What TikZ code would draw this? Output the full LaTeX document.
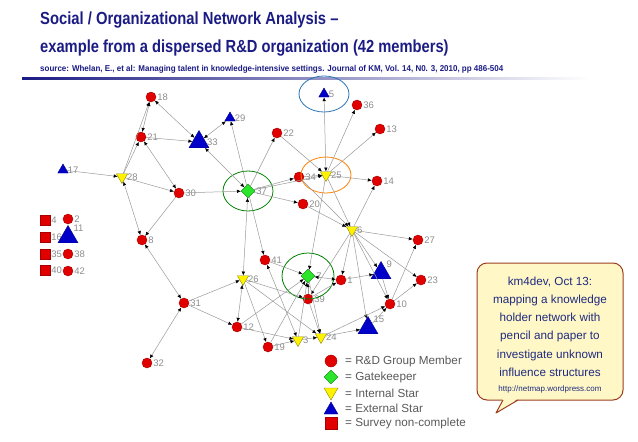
\documentclass[tikz,border=0pt]{standalone}
\usepackage{fontspec}
\usepackage{graphicx}
\setmainfont{Liberation Sans}
\usetikzlibrary{shapes.geometric,arrows.meta}

\definecolor{titleblue}{HTML}{1B1B84}
\definecolor{ndred}{HTML}{E00000}
\definecolor{ndgreen}{HTML}{2BE52B}
\definecolor{ndyellow}{HTML}{FFF200}
\definecolor{ndblue}{HTML}{0000C8}
\definecolor{ringblue}{HTML}{2A74B8}
\definecolor{notefill}{HTML}{FFF8C6}
\definecolor{noteline}{HTML}{9C3D1E}
\definecolor{notetext}{HTML}{1F2A80}

\tikzset{
  lbl/.style={font=\fontsize{9.5}{10}\selectfont, text=gray!90, inner sep=1pt},
  member/.style={circle, draw=ndred!75!black, fill=ndred, minimum size=10pt, inner sep=0pt},
  survey/.style={rectangle, draw=ndred!75!black, fill=ndred, minimum size=10pt, inner sep=0pt},
  gatekeeper/.style={diamond, draw=green!50!black, fill=ndgreen, minimum size=14pt, inner sep=0pt},
  intstar/.style={regular polygon, regular polygon sides=3, shape border rotate=180, draw=olive, fill=ndyellow, minimum size=13pt, inner sep=0pt},
  extstar/.style={regular polygon, regular polygon sides=3, draw=ndblue!70!black, fill=ndblue, minimum size=12pt, inner sep=0pt},
  bigstar/.style={extstar, minimum size=23pt},
  link/.style={draw=gray!80, line width=0.5pt, >={Latex[length=4pt,width=3.5pt,color=black]}},
  ring/.style={line width=0.8pt},
  legendtext/.style={anchor=west, text=black!65, font=\fontsize{11.7}{12}\selectfont, inner sep=0pt},
}

\begin{document}
\begin{tikzpicture}[x=1pt,y=-1pt]
\useasboundingbox (0,0) rectangle (638,442);

% Title
\node[anchor=base west, inner sep=0, text=titleblue, font=\bfseries\fontsize{17.5}{20}\selectfont] (title1) at (40,24) {\scalebox{0.845}[1]{Social / Organizational Network Analysis –}};
\node[anchor=base west, inner sep=0, text=titleblue, font=\bfseries\fontsize{17.5}{20}\selectfont] (title2) at (40,52) {\scalebox{0.84}[1]{example from a dispersed R\&D organization (42 members)}};
\node[anchor=base west, inner sep=0, text=titleblue, font=\bfseries\fontsize{8.5}{10}\selectfont] (source) at (40,71) {\scalebox{0.94}[1]{source: Whelan, E., et al: Managing talent in knowledge-intensive settings. Journal of KM, Vol. 14, N0. 3, 2010, pp 486-504}};
\shade[left color=titleblue, right color=white] (22,77.5) rectangle (590,79.3);

% Network members
\node[member, label={[lbl]right:18}] (n18) at (151,97) {};
\node[member, label={[lbl]right:21}] (n21) at (141,137) {};
\node[bigstar, label={[lbl]right:33}] (n33) at (199,142) {};
\node[extstar, label={[lbl]right:29}] (n29) at (230,118) {};
\node[member, label={[lbl]right:22}] (n22) at (277,133) {};
\node[extstar, label={[lbl]right:5}] (n5) at (324,94) {};
\node[member, label={[lbl]right:36}] (n36) at (357,105) {};
\node[member, label={[lbl]right:13}] (n13) at (380,129) {};
\node[extstar, label={[lbl]right:17}] (n17) at (63,170) {};
\node[intstar, label={[lbl]right:28}] (n28) at (122,177) {};
\node[member, label={[lbl]right:30}] (n30) at (179,193) {};
\node[gatekeeper, label={[lbl]right:37}] (n37) at (248,191) {};
\node[member, label={[lbl]right:34}] (n34) at (299,177) {};
\node[intstar, label={[lbl]right:25}] (n25) at (326,175) {};
\node[member, label={[lbl]right:14}] (n14) at (377,181) {};
\node[member, label={[lbl]right:20}] (n20) at (303,204) {};
\node[intstar, label={[lbl]right:6}] (n6) at (352,230) {};
\node[member, label={[lbl]right:27}] (n27) at (418,240) {};
\node[member, label={[lbl]right:23}] (n23) at (421,280) {};
\node[bigstar, label={[lbl]above right:9}] (n9) at (381,273) {};
\node[member, label={[lbl]right:1}] (n1) at (341,280) {};
\node[gatekeeper, label={[lbl]right:7}] (n7) at (308,276) {};
\node[member, label={[lbl]right:39}] (n39) at (308,299) {};
\node[member, label={[lbl]right:10}] (n10) at (390,304) {};
\node[bigstar, label={[lbl]above right:15}] (n15) at (368,328) {};
\node[intstar, label={[lbl]right:24}] (n24) at (321,337) {};
\node[intstar, label={[lbl]right:3}] (n3) at (298,340) {};
\node[member, label={[lbl]right:19}] (n19) at (268,347) {};
\node[member, label={[lbl]right:12}] (n12) at (237,327) {};
\node[intstar, label={[lbl]right:26}] (n26) at (243,279) {};
\node[member, label={[lbl]right:41}] (n41) at (265,260) {};
\node[member, label={[lbl]right:31}] (n31) at (184,303) {};
\node[member, label={[lbl]right:8}] (n8) at (142,240) {};
\node[member, label={[lbl]right:32}] (n32) at (147,363) {};

% Isolates
\node[survey, label={[lbl]right:4}] (n4) at (45,220) {};
\node[member, label={[lbl]right:2}] (n2) at (68,219) {};
\node[survey, label={[lbl]right:16}] (n16) at (45,237) {};
\node[bigstar, label={[lbl]above right:11}] (n11) at (68,237) {};
\node[survey, label={[lbl]right:35}] (n35) at (45,254) {};
\node[member, label={[lbl]right:38}] (n38) at (68,254) {};
\node[survey, label={[lbl]right:40}] (n40) at (45,270) {};
\node[member, label={[lbl]right:42}] (n42) at (68,271) {};

% Rings
\draw[ring, ringblue] (n5) ellipse [x radius=25, y radius=18];
\draw[ring, orange] (n25) ellipse [x radius=25, y radius=18];
\draw[ring, green!50!black] (n37) ellipse [x radius=25, y radius=20];
\draw[ring, green!50!black] (n7) ellipse [x radius=26, y radius=23];

% Ties
\draw[link,<->] (n18) -- (n21); \draw[link,->] (n28) -- (n18); \draw[link,->] (n28) -- (n21);
\draw[link,<->] (n18) -- (n33); \draw[link,->] (n21) -- (n33); \draw[link,<->] (n33) -- (n29);
\draw[link,<->] (n33) -- (n37); \draw[link,->] (n37) -- (n29); \draw[link,->] (n37) -- (n22);
\draw[link,<->] (n21) -- (n30); \draw[link,->] (n28) -- (n30); \draw[link,->] (n30) -- (n37);
\draw[link,->] (n17) -- (n28); \draw[link,<->] (n28) -- (n8); \draw[link,->] (n30) -- (n8);
\draw[link,<->] (n8) -- (n31); \draw[link,<->] (n31) -- (n32); \draw[link,->] (n31) -- (n26);
\draw[link,->] (n31) -- (n12); \draw[link,->] (n37) -- (n34); \draw[link,->] (n37) -- (n25);
\draw[link,->] (n37) -- (n20); \draw[link,<->] (n37) -- (n26); \draw[link,->] (n37) -- (n41);
\draw[link,->] (n22) -- (n25); \draw[link,<->] (n25) -- (n5); \draw[link,->] (n25) -- (n36);
\draw[link,->] (n25) -- (n13); \draw[link,->] (n25) -- (n14); \draw[link,->] (n34) -- (n25);
\draw[link,->] (n34) -- (n6); \draw[link,->] (n20) -- (n6); \draw[link,->] (n25) -- (n6);
\draw[link,->] (n25) -- (n7); \draw[link,->] (n6) -- (n14); \draw[link,->] (n6) -- (n27);
\draw[link,->] (n6) -- (n23); \draw[link,->] (n6) -- (n9); \draw[link,->] (n6) -- (n1);
\draw[link,->] (n6) -- (n15); \draw[link,->] (n6) -- (n39); \draw[link,->] (n6) -- (n10);
\draw[link,<->] (n7) -- (n1); \draw[link,->] (n1) -- (n9); \draw[link,->] (n9) -- (n10);
\draw[link,->] (n10) -- (n27); \draw[link,->] (n10) -- (n23); \draw[link,->] (n15) -- (n10);
\draw[link,->] (n24) -- (n10); \draw[link,->] (n24) -- (n15); \draw[link,->] (n39) -- (n7);
\draw[link,->] (n7) -- (n24); \draw[link,->] (n3) -- (n7); \draw[link,->] (n39) -- (n1);
\draw[link,->] (n41) -- (n7); \draw[link,<->] (n41) -- (n3); \draw[link,->] (n12) -- (n3);
\draw[link,->] (n19) -- (n3); \draw[link,->] (n3) -- (n24); \draw[link,->] (n39) -- (n24);
\draw[link,<->] (n26) -- (n12); \draw[link,->] (n26) -- (n19); \draw[link,->] (n26) -- (n39);
\draw[link,->] (n26) -- (n24); \draw[link,->] (n12) -- (n7); \draw[link,->] (n19) -- (n7);

% Legend
\node[member, minimum size=12pt] (k1) at (331,361) {};
\node[legendtext] (k1t) at (345,361) {= R\&D Group Member};
\node[gatekeeper, minimum size=14pt] (k2) at (331,377) {};
\node[legendtext] (k2t) at (345,377) {= Gatekeeper};
\node[intstar, minimum size=16pt] (k3) at (331,392) {};
\node[legendtext] (k3t) at (345,393) {= Internal Star};
\node[extstar, minimum size=16pt] (k4) at (331,410) {};
\node[legendtext] (k4t) at (345,408) {= External Star};
\node[survey, minimum size=12pt] (k5) at (331,423) {};
\node[legendtext] (k5t) at (345,423) {= Survey non-complete};

% Callout
\node[draw=noteline, fill=notefill, line width=1pt, rounded corners=10pt, minimum width=146pt, minimum height=137pt] (note) at (550,331.5) {};
\coordinate (tailL) at (503,400);
\coordinate (tailR) at (518,400);
\coordinate (tailtip) at (496,413);
\fill[notefill] ([yshift=1.5pt]tailL) -- (tailtip) -- ([yshift=1.5pt]tailR) -- cycle;
\draw[noteline, line width=1pt, line join=round] (tailL) -- (tailtip) -- (tailR);
\node[text=notetext, align=center, font=\fontsize{11.7}{18.3}\selectfont] (notetxt) at ([yshift=-3.5pt]note.center) {km4dev, Oct 13:\\mapping a knowledge\\holder network with\\pencil and paper to\\investigate unknown\\influence structures\\[-3pt]{\fontsize{8}{10}\selectfont http://netmap.wordpress.com}};
\end{tikzpicture}
\end{document}
